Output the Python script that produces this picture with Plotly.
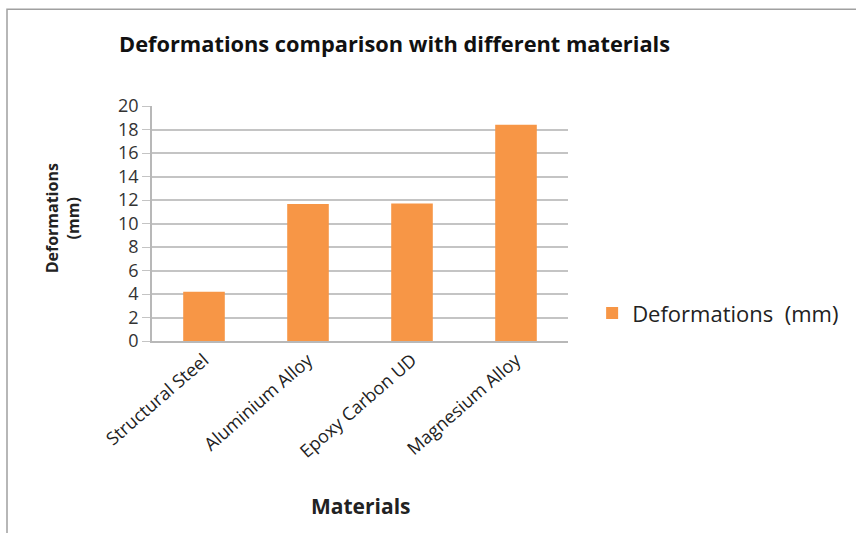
import plotly.graph_objects as go

materials = ["Structural Steel", "Aluminium Alloy", "Epoxy Carbon UD", "Magnesium Alloy"]
deformations = [4.2, 11.65, 11.7, 18.4]
y_ticks = [0, 2, 4, 6, 8, 10, 12, 14, 16, 18, 20]

title_text = "Deformations comparison with different materials"
series_name = "Deformations  (mm)"
x_title = "Materials"
y_title = "Deformations<br>(mm)"

FONT = "'Open Sans', Lato, sans-serif"

fig = go.Figure()
fig.add_trace(go.Bar(
    x=materials, y=deformations, name=series_name,
    marker=dict(color="#F79646", line=dict(width=0)),
    showlegend=True,
))

L, R, T, B = 152, 288, 106, 192
fig.update_layout(
    width=856, height=533,
    margin=dict(l=L, r=R, t=T, b=B),
    paper_bgcolor="white", plot_bgcolor="white",
    bargap=0.6,
    font=dict(family=FONT, color="#333333"),
    showlegend=True,
    legend=dict(x=1.058, y=0.118, xanchor="left", yanchor="middle",
                font=dict(size=22, color="#222222", family=FONT),
                itemwidth=30, bgcolor="rgba(0,0,0,0)"),
    xaxis=dict(
        tickangle=-41, tickfont=dict(size=18, color="#222222"),
        showline=True, linecolor="#b8b8b8", linewidth=1.5,
        ticks="", showgrid=False,
    ),
    yaxis=dict(
        range=[0, 20], tickvals=y_ticks, ticktext=[str(v) for v in y_ticks],
        tickfont=dict(size=18, color="#333333"),
        showline=True, linecolor="#b8b8b8", linewidth=1.5,
        ticks="outside", ticklen=8, tickcolor="#c4c4c4",
        ticklabelstandoff=0,
        showgrid=True, gridcolor="#c4c4c4", gridwidth=1.5,
        zeroline=False,
    ),
    shapes=[dict(type="rect", xref="paper", yref="paper",
                 x0=(7 - L) / 416, x1=1.9, y0=-1.2, y1=(340.7 - 9) / 235,
                 line=dict(color="#a0a0a0", width=1.5), fillcolor="rgba(0,0,0,0)",
                 layer="below")],
    annotations=[
        dict(text="<b>" + title_text + "</b>", xref="paper", yref="paper",
             x=0.582, y=1.267, xanchor="center", yanchor="middle", showarrow=False,
             font=dict(size=21.8, color="#111111", family=FONT)),
        dict(text="<b>" + x_title + "</b>", xref="paper", yref="paper",
             x=0.5, y=-0.70, xanchor="center", yanchor="middle", showarrow=False,
             font=dict(size=21, color="#222222", family=FONT)),
        dict(text="<b>" + y_title + "</b>", xref="paper", yref="paper",
             x=-0.215, y=0.52, xanchor="center", yanchor="middle", showarrow=False,
             textangle=-90, font=dict(size=16, color="#222222", family=FONT)),
    ],
)

fig.write_html("out.html")
